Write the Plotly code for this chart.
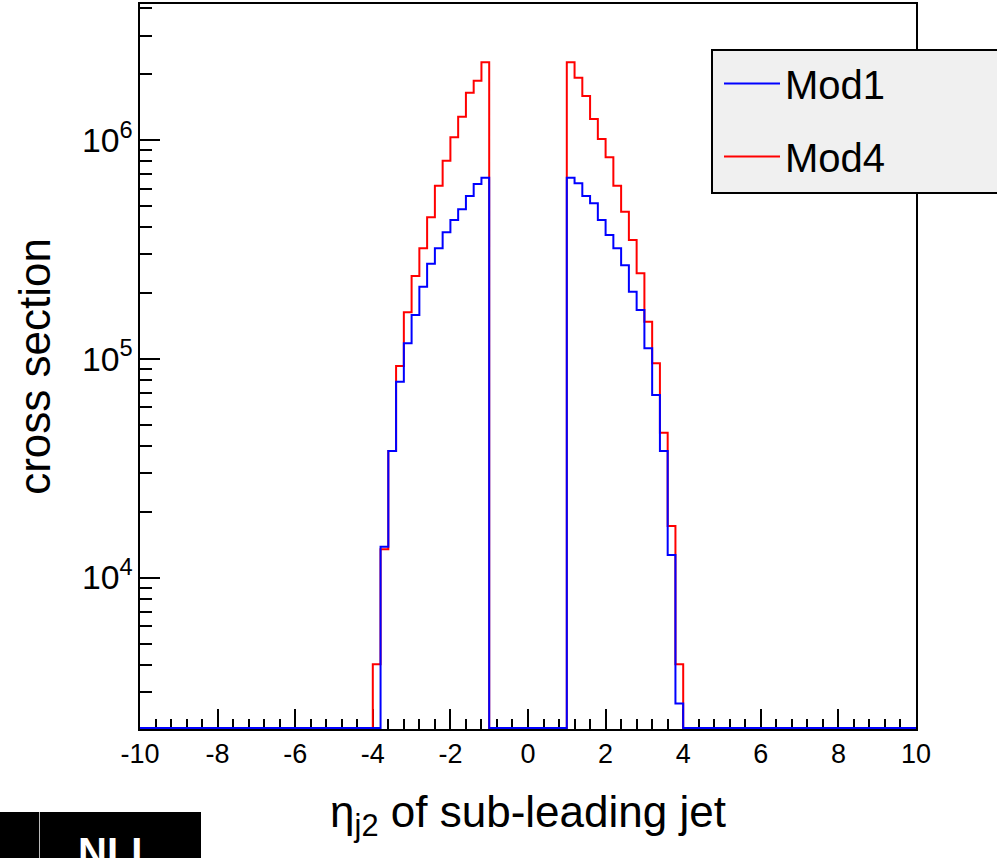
import numpy as np
import plotly.graph_objects as go

# Histogram binning: 100 bins of width 0.2 from -10 to 10
bin_edges = np.round(np.linspace(-10, 10, 101), 1)

# Bin contents (bins -4.0..-1.0 and 1.0..4.0; all others empty)
mod1_left = [0, 13840, 37880, 78620, 117700, 158500, 213600, 272100, 319900,
             378600, 430900, 482400, 554800, 629500, 672500]
mod1_right = [672500, 634200, 554800, 513600, 430900, 368000, 319900, 267500,
              202600, 167100, 111700, 68330, 37880, 12690, 2664]
mod4_left = [4018, 13470, 37880, 92700, 163100, 239000, 319900, 443400, 618300,
             804300, 1028700, 1278000, 1645000, 1866000, 2265000]
mod4_right = [2265000, 1926000, 1589000, 1247000, 1011000, 833500, 618300,
              470300, 349100, 245900, 147800, 95360, 45950, 17210, 4018]

x_tick_vals = list(range(-10, 11, 2))
x_tick_text = [str(v) for v in x_tick_vals]
y_min_log, y_max_log = 3.3085, 6.6216


def full_hist(left, right):
    return [0] * 30 + left + [0] * 10 + right + [0] * 30


def step_values(counts):
    # ROOT draws empty bins at the bottom of the frame
    floor = 10 ** (y_min_log + 0.004)
    vals = [c if c > 0 else floor for c in counts]
    return vals + [vals[-1]]


mod1 = full_hist(mod1_left, mod1_right)
mod4 = full_hist(mod4_left, mod4_right)

fig = go.Figure()
fig.add_trace(go.Scatter(x=bin_edges, y=step_values(mod4), mode="lines",
                         line=dict(shape="hv", color="#ff0000", width=2),
                         name="Mod4", legendrank=2, legendgroup="b"))
fig.add_trace(go.Scatter(x=bin_edges, y=step_values(mod1), mode="lines",
                         line=dict(shape="hv", color="#0000ff", width=2),
                         name="Mod1", legendrank=1, legendgroup="a"))

font_family = "Liberation Sans, Arial, Helvetica, sans-serif"
L, R, T, B = 140, 81, 4, 129
W, H = 997, 858
pw, ph = W - L - R, H - T - B


def px_x(p):
    return (p - L) / pw


def px_y(p):
    return (H - B - p) / ph


fig.update_layout(
    width=W, height=H,
    margin=dict(l=L, r=R, t=T, b=B, autoexpand=False),
    paper_bgcolor="white", plot_bgcolor="white",
    font=dict(family=font_family, color="black"),
    showlegend=True,
    legend=dict(x=px_x(719), y=px_y(51), xanchor="left", yanchor="top",
                bgcolor="rgba(0,0,0,0)", borderwidth=0,
                font=dict(size=40, family=font_family),
                itemwidth=56,
                traceorder="grouped", tracegroupgap=18),
    xaxis=dict(range=[-10, 10], tickvals=x_tick_vals, ticktext=x_tick_text,
               ticks="inside",
               ticklen=20, tickwidth=1.5, tickcolor="black",
               showline=True, linecolor="black", linewidth=2, mirror=True,
               showgrid=False, zeroline=False, layer="below traces",
               tickfont=dict(size=27),
               minor=dict(dtick=0.4, tick0=-10, ticks="inside", ticklen=10,
                          tickwidth=1.5, tickcolor="black", showgrid=False),
               title=dict(text="η<sub>j2</sub> of sub-leading jet",
                          font=dict(size=44), standoff=28)),
    yaxis=dict(type="log", range=[y_min_log, y_max_log], dtick=1,
               exponentformat="power", ticks="inside", ticklen=20,
               tickwidth=1.5, tickcolor="black",
               showline=True, linecolor="black", linewidth=2, mirror=True,
               showgrid=False, zeroline=False, layer="below traces",
               tickfont=dict(size=27),
               minor=dict(dtick="D1", ticks="inside", ticklen=12,
                          tickwidth=1.5, tickcolor="black", showgrid=False),
               title=dict(text="cross section", font=dict(size=44),
                          standoff=18)),
    shapes=[
        # legend box
        dict(type="rect", xref="paper", yref="paper",
             x0=px_x(712), x1=px_x(1010), y0=px_y(193), y1=px_y(50),
             fillcolor="#f0f0f0", line=dict(color="black", width=2),
             layer="above"),
        # dark slide strip at bottom-left
        dict(type="rect", xref="paper", yref="paper",
             x0=px_x(-5), x1=px_x(201), y0=px_y(870), y1=px_y(812),
             fillcolor="black", line=dict(width=0), layer="above"),
        dict(type="line", xref="paper", yref="paper",
             x0=px_x(39.5), x1=px_x(39.5), y0=px_y(870), y1=px_y(812),
             line=dict(color="#bbbbbb", width=1), layer="above"),
    ],
    annotations=[
        dict(text="<b>NLL</b>", xref="paper", yref="paper",
             x=px_x(76), y=px_y(828), xanchor="left", yanchor="top",
             showarrow=False, font=dict(size=40, color="white"))
    ],
)

fig.write_html("out.html")
